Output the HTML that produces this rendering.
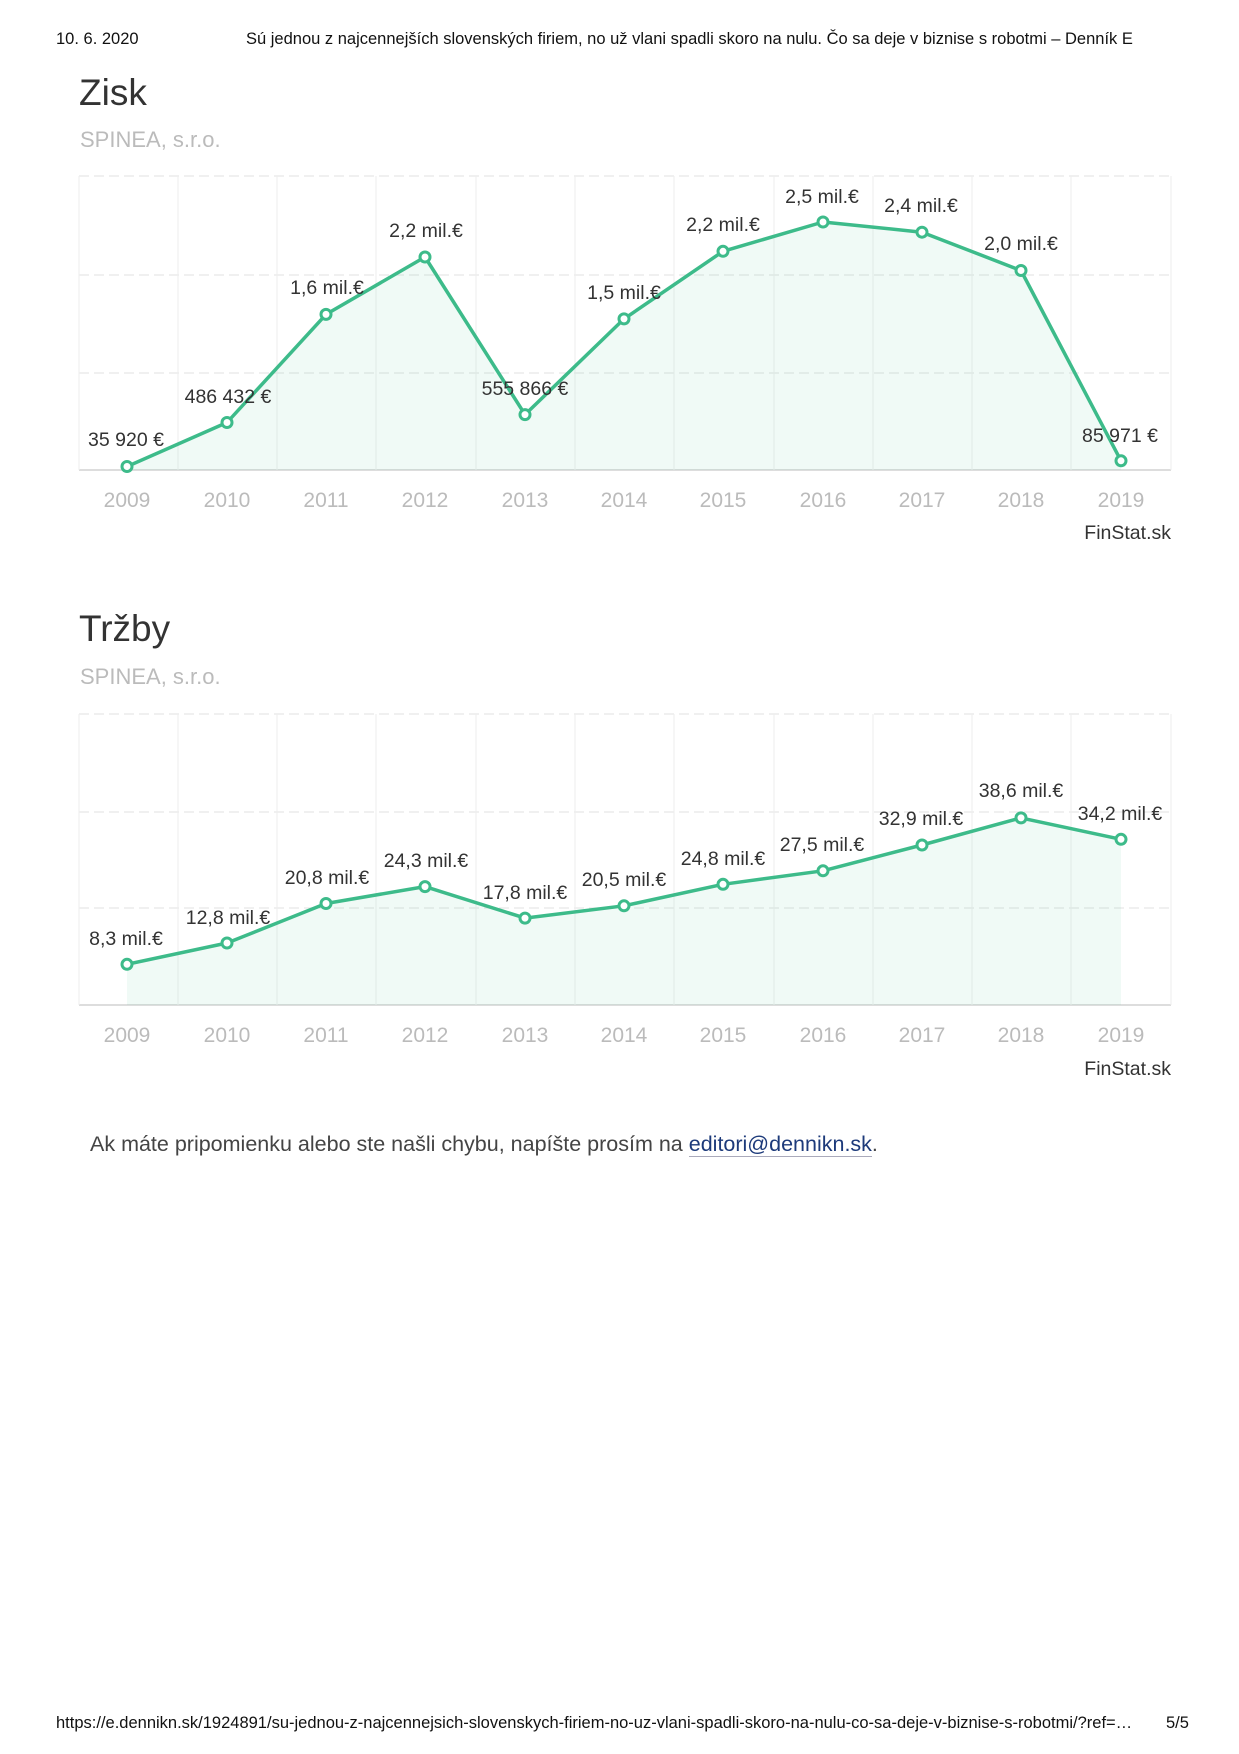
<!DOCTYPE html>
<html><head><meta charset="utf-8"><style>
body{margin:0;width:1239px;height:1754px;background:#fff;position:relative;font-family:"Liberation Sans",sans-serif;overflow:hidden}
.a{position:absolute;white-space:nowrap}
</style></head><body>
<div class="a" style="left:56px;top:30px;font-size:16.5px;color:#111">10. 6. 2020</div>
<div class="a" style="left:246px;top:30px;font-size:16.5px;color:#111">Sú jednou z najcennejších slovenských firiem, no už vlani spadli skoro na nulu. Čo sa deje v biznise s robotmi – Denník E</div>

<div class="a" style="left:79px;top:72px;font-size:37px;color:#333">Zisk</div>
<div class="a" style="left:80px;top:127px;font-size:22px;color:#bbb">SPINEA, s.r.o.</div>
<div class="a" style="left:79px;top:608px;font-size:37px;color:#333">Tržby</div>
<div class="a" style="left:80px;top:664px;font-size:22px;color:#bbb">SPINEA, s.r.o.</div>

<svg class="a" style="left:0;top:0" width="1239" height="1200" font-family="Liberation Sans, sans-serif">
<g stroke="#e6e6e6" stroke-width="1.2">
<line x1="79" y1="176" x2="1171" y2="176" stroke-dasharray="10,5"/>
<line x1="79" y1="275" x2="1171" y2="275" stroke-dasharray="10,5"/>
<line x1="79" y1="373" x2="1171" y2="373" stroke-dasharray="10,5"/>
<line x1="79" y1="470" x2="1171" y2="470" stroke="#ddd" stroke-width="2"/>
<line x1="79" y1="714" x2="1171" y2="714" stroke-dasharray="10,5"/>
<line x1="79" y1="812" x2="1171" y2="812" stroke-dasharray="10,5"/>
<line x1="79" y1="908" x2="1171" y2="908" stroke-dasharray="10,5"/>
<line x1="79" y1="1005" x2="1171" y2="1005" stroke="#ddd" stroke-width="2"/>
</g>
<g stroke="#eee" stroke-width="1">
<line x1="79" y1="176" x2="79" y2="470"/><line x1="178" y1="176" x2="178" y2="470"/><line x1="277" y1="176" x2="277" y2="470"/><line x1="376" y1="176" x2="376" y2="470"/><line x1="476" y1="176" x2="476" y2="470"/><line x1="575" y1="176" x2="575" y2="470"/><line x1="674" y1="176" x2="674" y2="470"/><line x1="774" y1="176" x2="774" y2="470"/><line x1="873" y1="176" x2="873" y2="470"/><line x1="972" y1="176" x2="972" y2="470"/><line x1="1071" y1="176" x2="1071" y2="470"/><line x1="1171" y1="176" x2="1171" y2="470"/>
<line x1="79" y1="714" x2="79" y2="1005"/><line x1="178" y1="714" x2="178" y2="1005"/><line x1="277" y1="714" x2="277" y2="1005"/><line x1="376" y1="714" x2="376" y2="1005"/><line x1="476" y1="714" x2="476" y2="1005"/><line x1="575" y1="714" x2="575" y2="1005"/><line x1="674" y1="714" x2="674" y2="1005"/><line x1="774" y1="714" x2="774" y2="1005"/><line x1="873" y1="714" x2="873" y2="1005"/><line x1="972" y1="714" x2="972" y2="1005"/><line x1="1071" y1="714" x2="1071" y2="1005"/><line x1="1171" y1="714" x2="1171" y2="1005"/>
</g>
<polygon fill="#3dbb8a" fill-opacity="0.08" points="127,470 127,466.5 227,422.5 326,314.4 425,257 525,414.6 624,318.9 723,251.3 823,222 922,232.2 1021,270.5 1121,460.8 1121,470"/>
<polyline fill="none" stroke="#3dbb8a" stroke-width="3.5" stroke-linejoin="round" points="127,466.5 227,422.5 326,314.4 425,257 525,414.6 624,318.9 723,251.3 823,222 922,232.2 1021,270.5 1121,460.8"/>
<g fill="#fff" stroke="#3dbb8a" stroke-width="3">
<circle cx="127" cy="466.5" r="5"/><circle cx="227" cy="422.5" r="5"/><circle cx="326" cy="314.4" r="5"/><circle cx="425" cy="257" r="5"/><circle cx="525" cy="414.6" r="5"/><circle cx="624" cy="318.9" r="5"/><circle cx="723" cy="251.3" r="5"/><circle cx="823" cy="222" r="5"/><circle cx="922" cy="232.2" r="5"/><circle cx="1021" cy="270.5" r="5"/><circle cx="1121" cy="460.8" r="5"/>
</g>
<polygon fill="#3dbb8a" fill-opacity="0.08" points="127,1005 127,964.3 227,943 326,903.5 425,886.6 525,918.1 624,905.8 723,884.3 823,870.8 922,845 1021,817.9 1121,839.3 1121,1005"/>
<polyline fill="none" stroke="#3dbb8a" stroke-width="3.5" stroke-linejoin="round" points="127,964.3 227,943 326,903.5 425,886.6 525,918.1 624,905.8 723,884.3 823,870.8 922,845 1021,817.9 1121,839.3"/>
<g fill="#fff" stroke="#3dbb8a" stroke-width="3">
<circle cx="127" cy="964.3" r="5"/><circle cx="227" cy="943" r="5"/><circle cx="326" cy="903.5" r="5"/><circle cx="425" cy="886.6" r="5"/><circle cx="525" cy="918.1" r="5"/><circle cx="624" cy="905.8" r="5"/><circle cx="723" cy="884.3" r="5"/><circle cx="823" cy="870.8" r="5"/><circle cx="922" cy="845" r="5"/><circle cx="1021" cy="817.9" r="5"/><circle cx="1121" cy="839.3" r="5"/>
</g>
<g font-size="19.5" fill="#333" text-anchor="middle">
<text x="126" y="446">35 920 €</text><text x="228" y="403">486 432 €</text><text x="327" y="294">1,6 mil.€</text><text x="426" y="237">2,2 mil.€</text><text x="525" y="395">555 866 €</text><text x="624" y="299">1,5 mil.€</text><text x="723" y="231">2,2 mil.€</text><text x="822" y="203">2,5 mil.€</text><text x="921" y="212">2,4 mil.€</text><text x="1021" y="250">2,0 mil.€</text><text x="1120" y="442">85 971 €</text>
<text x="126" y="945">8,3 mil.€</text><text x="228" y="924">12,8 mil.€</text><text x="327" y="884">20,8 mil.€</text><text x="426" y="867">24,3 mil.€</text><text x="525" y="899">17,8 mil.€</text><text x="624" y="886">20,5 mil.€</text><text x="723" y="865">24,8 mil.€</text><text x="822" y="851">27,5 mil.€</text><text x="921" y="825">32,9 mil.€</text><text x="1021" y="797">38,6 mil.€</text><text x="1120" y="820">34,2 mil.€</text>
</g>
<g font-size="21" fill="#bbb" text-anchor="middle">
<text x="127" y="507">2009</text><text x="227" y="507">2010</text><text x="326" y="507">2011</text><text x="425" y="507">2012</text><text x="525" y="507">2013</text><text x="624" y="507">2014</text><text x="723" y="507">2015</text><text x="823" y="507">2016</text><text x="922" y="507">2017</text><text x="1021" y="507">2018</text><text x="1121" y="507">2019</text>
<text x="127" y="1042">2009</text><text x="227" y="1042">2010</text><text x="326" y="1042">2011</text><text x="425" y="1042">2012</text><text x="525" y="1042">2013</text><text x="624" y="1042">2014</text><text x="723" y="1042">2015</text><text x="823" y="1042">2016</text><text x="922" y="1042">2017</text><text x="1021" y="1042">2018</text><text x="1121" y="1042">2019</text>
</g>
<g font-size="19.5" fill="#333" text-anchor="end">
<text x="1171" y="539">FinStat.sk</text><text x="1171" y="1075">FinStat.sk</text>
</g>
</svg>

<div class="a" style="left:90px;top:1132px;font-size:21.5px;color:#444">Ak máte pripomienku alebo ste našli chybu, napíšte prosím na <span style="color:#1d3a7a;border-bottom:1px solid #aab">editori@dennikn.sk</span>.</div>

<div class="a" style="left:56px;top:1714px;font-size:16.5px;color:#111">https://e.dennikn.sk/1924891/su-jednou-z-najcennejsich-slovenskych-firiem-no-uz-vlani-spadli-skoro-na-nulu-co-sa-deje-v-biznise-s-robotmi/?ref=…</div>
<div class="a" style="left:1166px;top:1714px;font-size:16.5px;color:#111">5/5</div>
</body></html>
